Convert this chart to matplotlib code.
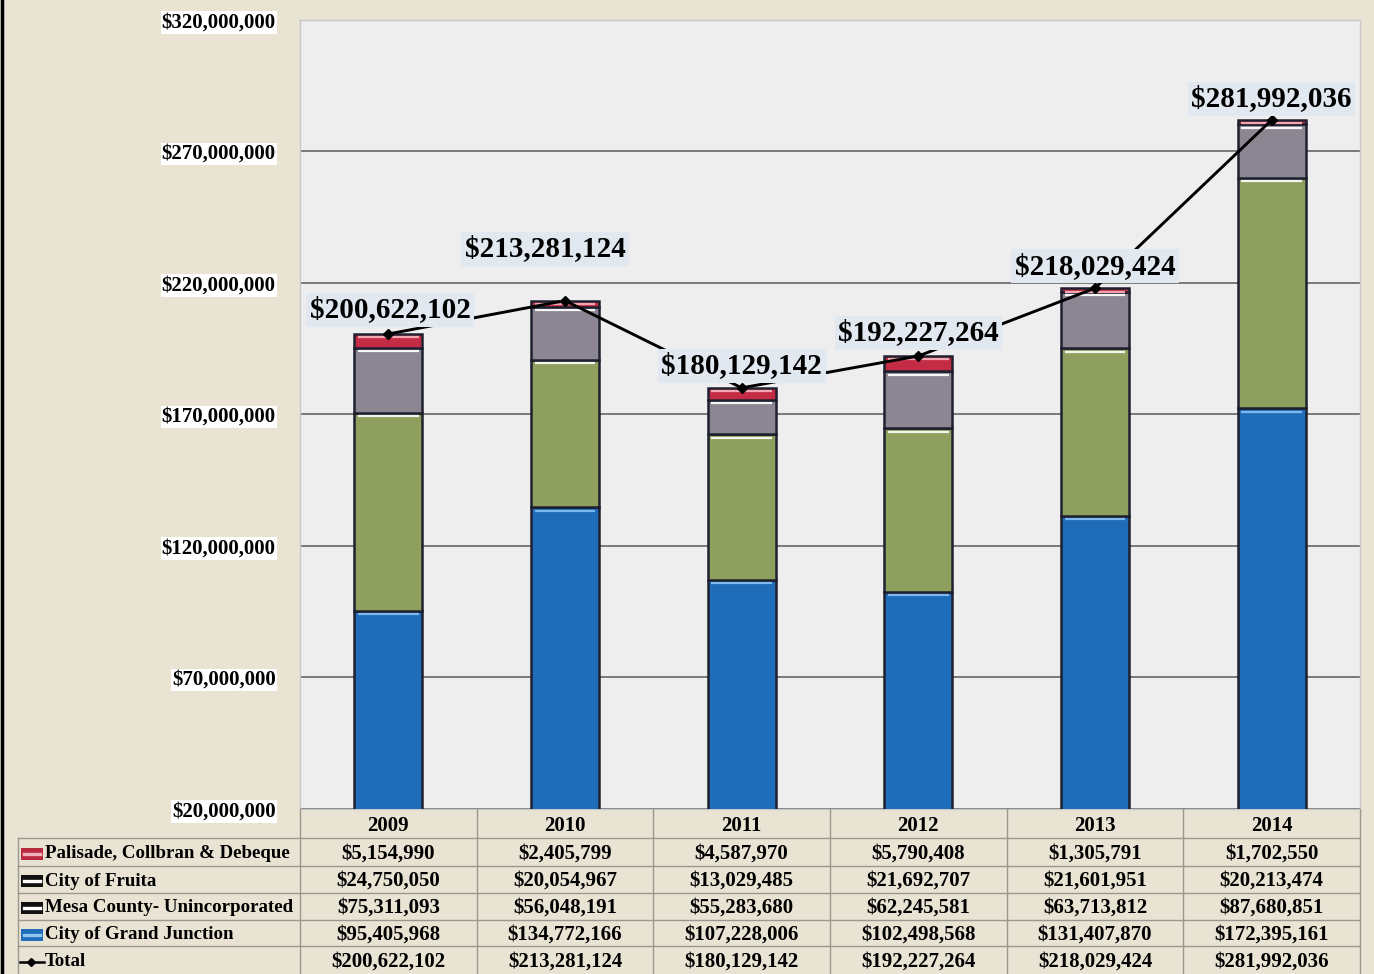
import matplotlib.pyplot as plt
from matplotlib.patches import Rectangle
from matplotlib.lines import Line2D
import numpy as np

plt.rcParams['font.family'] = ['Liberation Serif', 'DejaVu Serif']
plt.rcParams['font.weight'] = 'bold'

years = ['2009', '2010', '2011', '2012', '2013', '2014']
palisade = [5154990, 2405799, 4587970, 5790408, 1305791, 1702550]
fruita = [24750050, 20054967, 13029485, 21692707, 21601951, 20213474]
mesa = [75311093, 56048191, 55283680, 62245581, 63713812, 87680851]
grand_junction = [95405968, 134772166, 107228006, 102498568, 131407870, 172395161]
totals = [200622102, 213281124, 180129142, 192227264, 218029424, 281992036]

row_names = ['Palisade, Collbran & Debeque', 'City of Fruita',
             'Mesa County- Unincorporated', 'City of Grand Junction', 'Total']

W, H = 1374, 974
BG = '#E9E3D4'

# bottom-to-top stacking: (values, fill, top highlight)
stack = [
    (grand_junction, '#1F6DB8', '#7DB9EE'),
    (mesa, '#8E9F5E', '#F4F4EE'),
    (fruita, '#8C8693', '#F6F6F6'),
    (palisade, '#C42C45', '#F2A6B2'),
]

fig = plt.figure(figsize=(W / 100, H / 100), dpi=100, facecolor=BG)


def fx(px):
    return px / W


def fy(py):
    return 1 - py / H


ax = fig.add_axes([fx(300), fy(809), fx(1360) - fx(300), fy(20) - fy(809)])
ax.set_facecolor('#EEEEEE')

x = np.arange(len(years))
width = 0.385
bottom = np.zeros(len(years))
for vals, color, hi in stack:
    vals = np.array(vals, dtype=float)
    ax.bar(x, vals, width, bottom=bottom, color=color,
           edgecolor='#1E2030', linewidth=1.8, zorder=3)
    tops = bottom + vals
    ax.hlines(tops - 1.3e6, x - width / 2 + 0.02, x + width / 2 - 0.02,
              color=hi, linewidth=1.6, zorder=4)
    bottom = tops

ax.plot(x, totals, color='black', linewidth=2.1, marker='D',
        markersize=5, zorder=5)

label_offsets = [(2, 24), (-20, 52), (0, 22), (0, 23), (0, 22), (0, 21)]
for xi, t, off in zip(x, totals, label_offsets):
    ax.annotate('${:,}'.format(t), (xi, t), xytext=off,
                textcoords='offset pixels', ha='center', va='center',
                fontsize=21, fontweight='bold', zorder=6,
                bbox=dict(boxstyle='square,pad=0.12', fc='#E2E8EF', ec='none'))

ax.set_xlim(-0.5, len(years) - 0.5)
ax.set_ylim(20e6, 320e6)
ticks = np.arange(20e6, 320e6 + 1, 50e6)
ax.set_yticks(ticks)
ax.set_yticklabels(['${:,.0f}'.format(t) for t in ticks], fontsize=15,
                   fontweight='bold')
for lbl in ax.get_yticklabels():
    lbl.set_bbox(dict(boxstyle='square,pad=0.05', fc='white', ec='none'))
ax.tick_params(axis='y', length=0, pad=17.5)
ax.set_xticks([])
ax.yaxis.grid(True, color='#5A5A5A', linewidth=1.1, zorder=0)
ax.set_axisbelow(True)
for side in ['top', 'right', 'bottom', 'left']:
    ax.spines[side].set_color('#C8C8C8')
    ax.spines[side].set_linewidth(1)

# data table under the plot
col_w = (1360 - 300) / len(years)
row_y = [809, 838, 866, 893, 920, 946, 974]
line_kw = dict(color='#9A978F', linewidth=1, transform=fig.transFigure)
for i in range(len(years) + 1):
    xv = 300 + i * col_w
    fig.add_artist(Line2D([fx(xv), fx(xv)], [fy(809), fy(974)], **line_kw))
fig.add_artist(Line2D([fx(18), fx(18)], [fy(838), fy(974)], **line_kw))
for yv in row_y[1:-1]:
    fig.add_artist(Line2D([fx(18), fx(1360)], [fy(yv), fy(yv)], **line_kw))

for i, yr in enumerate(years):
    fig.text(fx(300 + (i + 0.5) * col_w), fy(826), yr, ha='center',
             va='center', fontsize=15, fontweight='bold')

table_rows = [palisade, fruita, mesa, grand_junction, totals]
key_styles = [('#B8283E', '#F0B0BC'), ('#111111', 'white'),
              ('#111111', 'white'), ('#1F6DB8', '#8CC4F2'), None]
for r, (name, vals, key) in enumerate(zip(row_names, table_rows, key_styles)):
    yc = (row_y[r + 1] + row_y[r + 2]) / 2 + 1.5
    if key is not None:
        fig.add_artist(Rectangle((fx(21), fy(yc + 6)), fx(22), 12 / H,
                                 facecolor=key[0], edgecolor='none',
                                 transform=fig.transFigure))
        fig.add_artist(Line2D([fx(24), fx(40)], [fy(yc), fy(yc)],
                              color=key[1], linewidth=2.4,
                              transform=fig.transFigure))
    else:
        fig.add_artist(Line2D([fx(20), fx(44)], [fy(yc), fy(yc)],
                              color='black', linewidth=1.8,
                              transform=fig.transFigure))
        fig.add_artist(Line2D([fx(31)], [fy(yc)], color='black',
                              marker='D', markersize=4,
                              transform=fig.transFigure))
    fig.text(fx(45), fy(yc), name, ha='left', va='center', fontsize=13.6,
             fontweight='bold')
    for i, v in enumerate(vals):
        fig.text(fx(300 + (i + 0.5) * col_w), fy(yc), '${:,}'.format(v),
                 ha='center', va='center', fontsize=15, fontweight='bold')

# dark frame edge on the left
fig.add_artist(Line2D([fx(1.5), fx(1.5)], [0, 1], color='black',
                      linewidth=2.5, transform=fig.transFigure))

fig.savefig('out.png', dpi=100, facecolor=BG)
